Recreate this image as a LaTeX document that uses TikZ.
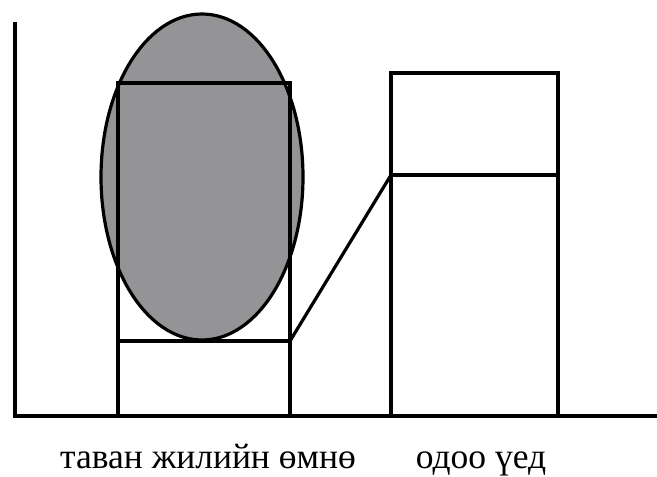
\documentclass[tikz,border=0pt]{standalone}
\usepackage{fontspec}
\setmainfont{Liberation Serif}
\begin{document}
\begin{tikzpicture}[x=1pt,y=-1pt,
  line/.style={line width=3.2pt, line cap=rect, black},
  lbl/.style={font=\fontsize{35.5}{40}\selectfont, inner sep=0pt, anchor=base}]
\useasboundingbox (0,0) rectangle (657,477);
% axes
\coordinate (ytop) at (15,24);
\coordinate (orig) at (15,416);
\coordinate (xend) at (657,416);
% left bar
\coordinate (LBL) at (118,416);
\coordinate (LTL) at (118,83);
\coordinate (LTR) at (290,83);
\coordinate (LBR) at (290,416);
\coordinate (LML) at (118,341);
\coordinate (LMR) at (290,341);
% right bar
\coordinate (RBL) at (391,416);
\coordinate (RTL) at (391,73);
\coordinate (RTR) at (558,73);
\coordinate (RBR) at (558,416);
\coordinate (RML) at (391,175);
\coordinate (RMR) at (558,175);
% ellipse
\fill[fill={rgb,255:red,148;green,148;blue,150}] (202,177) ellipse [x radius=101, y radius=163];
\draw[line] (202,177) ellipse [x radius=101, y radius=163];
\draw[line] (LBL) -- (LTL) -- (LTR) -- (LBR);
\draw[line] (LML) -- (LMR);
\draw[line] (LMR) -- (RML);
\draw[line] (RBL) -- (RTL) -- (RTR) -- (RBR);
\draw[line] (RML) -- (RMR);
\draw[line] (ytop) -- (orig) -- (xend);
\node[lbl] (t1) at (208,468) {таван жилийн өмнө};
\node[lbl] (t2) at (481,468) {одоо үед};
\end{tikzpicture}
\end{document}
